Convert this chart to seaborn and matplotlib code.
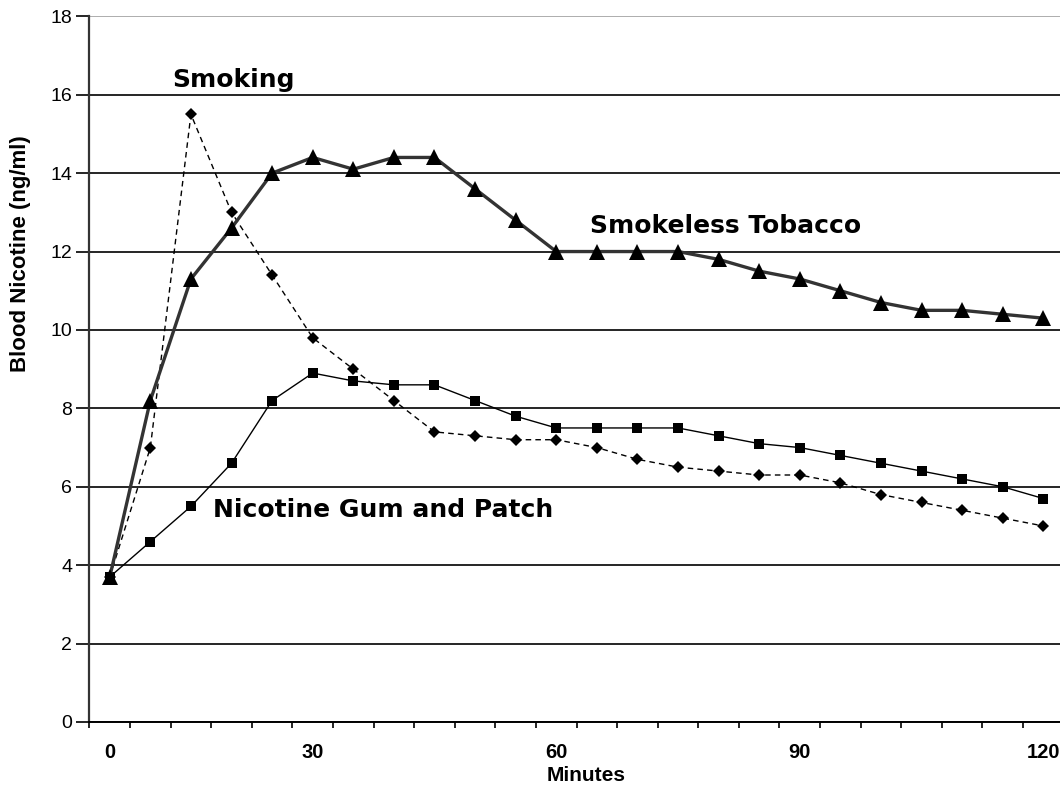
import matplotlib
matplotlib.use("Agg")
import matplotlib.pyplot as plt
import seaborn as sns
import pandas as pd

sns.set_theme(style="white")
plt.rcParams['font.family'] = ['Liberation Sans', 'DejaVu Sans']
plt.rcParams['text.color'] = 'black'
plt.rcParams['axes.labelcolor'] = 'black'
plt.rcParams['xtick.color'] = 'black'
plt.rcParams['ytick.color'] = 'black'

# category axis: minutes after use (evenly spaced categories, as in the source chart)
minutes = [0, 6, 12, 18, 24, 30, 35, 40, 45, 50, 55, 60, 65, 70, 75,
           80, 85, 90, 95, 100, 105, 110, 115, 120]
shown_labels = [0, 30, 60, 90, 120]

smoking = [3.7, 7.0, 15.5, 13.0, 11.4, 9.8, 9.0, 8.2, 7.4, 7.3, 7.2, 7.2,
           7.0, 6.7, 6.5, 6.4, 6.3, 6.3, 6.1, 5.8, 5.6, 5.4, 5.2, 5.0]
smokeless = [3.7, 8.2, 11.3, 12.6, 14.0, 14.4, 14.1, 14.4, 14.4, 13.6, 12.8, 12.0,
             12.0, 12.0, 12.0, 11.8, 11.5, 11.3, 11.0, 10.7, 10.5, 10.5, 10.4, 10.3]
gum_patch = [3.7, 4.6, 5.5, 6.6, 8.2, 8.9, 8.7, 8.6, 8.6, 8.2, 7.8, 7.5,
             7.5, 7.5, 7.5, 7.3, 7.1, 7.0, 6.8, 6.6, 6.4, 6.2, 6.0, 5.7]

pos = list(range(len(minutes)))
df = pd.DataFrame({'pos': pos, 'Smoking': smoking, 'Smokeless Tobacco': smokeless,
                   'Nicotine Gum and Patch': gum_patch})

fig = plt.figure(figsize=(10.6, 7.92), dpi=100)
ax = fig.add_axes([0.0844, 0.0884, 0.919, 0.891])

sns.lineplot(data=df, x='pos', y='Nicotine Gum and Patch', ax=ax, color='black',
             linewidth=1.0, marker='s', markersize=7, markeredgewidth=0, zorder=4)
sns.lineplot(data=df, x='pos', y='Smoking', ax=ax, color='black', linewidth=1.0,
             linestyle=(0, (4, 3)), marker='D', markersize=6.5, markeredgewidth=0, zorder=5)
sns.lineplot(data=df, x='pos', y='Smokeless Tobacco', ax=ax, color='#333333',
             linewidth=2.4, marker='^', markersize=11.5, markerfacecolor='black',
             markeredgewidth=0, zorder=6)

ax.set_xlim(-0.5, len(minutes) - 0.5)
ax.set_ylim(0, 18)
ax.set_yticks(range(0, 19, 2))
ax.set_yticklabels([str(v) for v in range(0, 19, 2)], fontsize=14)
ax.grid(axis='y', color='black', linewidth=1.2)
ax.yaxis.get_gridlines()[-1].set_color('#a0a0a0')
ax.grid(axis='x', visible=False)
ax.set_axisbelow(True)

# tick marks sit between categories, labels on chosen categories
ax.set_xticks([p - 0.5 for p in range(len(minutes) + 1)])
ax.set_xticklabels([])
lab_pos = [minutes.index(m) for m in shown_labels]
ax.set_xticks(lab_pos, minor=True)
ax.set_xticklabels([str(m) for m in shown_labels], minor=True, fontsize=14.5,
                   fontweight='bold')
ax.tick_params(axis='x', which='major', direction='out', length=4, width=1.2,
               color='black', bottom=True)
ax.tick_params(axis='x', which='minor', length=0, pad=15)
ax.tick_params(axis='y', direction='out', length=9.5, width=1.2, color='black',
               left=True, pad=3)

for s in ['top', 'right']:
    ax.spines[s].set_visible(False)
ax.spines['left'].set_color('#333333')
ax.spines['left'].set_linewidth(1.6)
ax.spines['bottom'].set_color('black')
ax.spines['bottom'].set_linewidth(1.4)

ax.set_xlabel('Minutes', fontsize=15, fontweight='bold')
ax.xaxis.set_label_coords(0.51, -0.062)
ax.set_ylabel('Blood Nicotine (ng/ml)', fontsize=16, fontweight='bold')
ax.yaxis.set_label_coords(-0.06, 0.664)

lab_font = dict(fontsize=18, fontweight='bold', family='DejaVu Sans',
                ha='left', va='baseline', color='black')
ax.text(1.53, 16.2, 'Smoking', **lab_font)
ax.text(11.82, 12.47, 'Smokeless Tobacco', **lab_font)
ax.text(2.54, 5.23, 'Nicotine Gum and Patch', **lab_font)

fig.savefig('out.png', dpi=100)
